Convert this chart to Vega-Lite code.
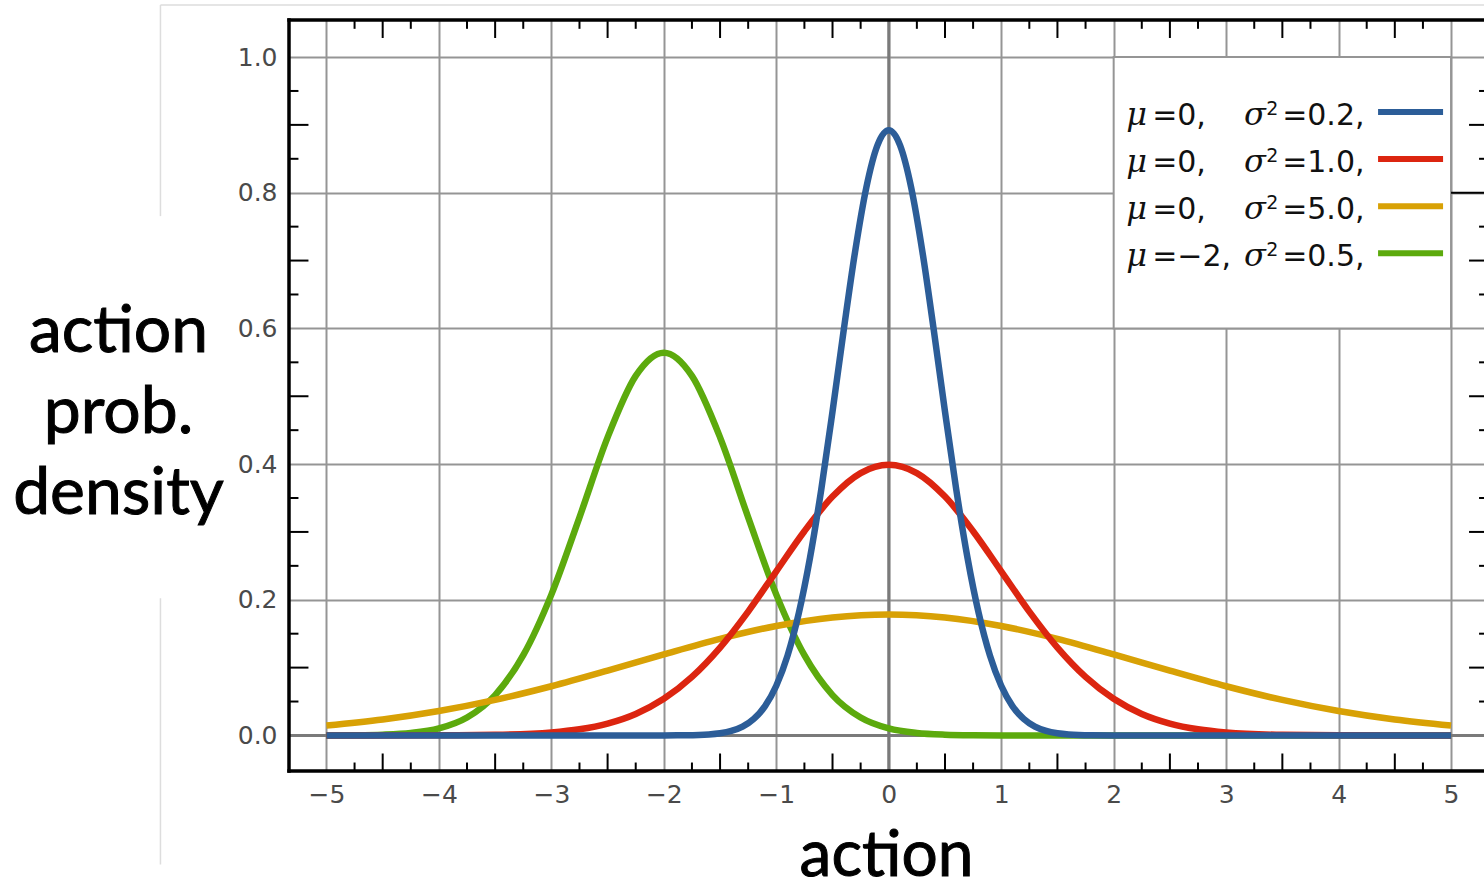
{
  "$schema": "https://vega.github.io/schema/vega-lite/v6.json",
  "width": 1195,
  "height": 751,
  "autosize": "none",
  "padding": {"left": 289, "top": 20, "right": 0, "bottom": 118},
  "background": "white",
  "config": {"view": {"stroke": null}},
  "datasets": {
    "curves": [
      {"s": "N(-2,0.5)", "x": -5, "y": 0.00007},
      {"s": "N(-2,0.5)", "x": -4.75, "y": 0.00029},
      {"s": "N(-2,0.5)", "x": -4.5, "y": 0.00109},
      {"s": "N(-2,0.5)", "x": -4.25, "y": 0.00357},
      {"s": "N(-2,0.5)", "x": -4, "y": 0.0103},
      {"s": "N(-2,0.5)", "x": -3.75, "y": 0.0264},
      {"s": "N(-2,0.5)", "x": -3.5, "y": 0.0595},
      {"s": "N(-2,0.5)", "x": -3.25, "y": 0.1183},
      {"s": "N(-2,0.5)", "x": -3, "y": 0.2076},
      {"s": "N(-2,0.5)", "x": -2.75, "y": 0.3215},
      {"s": "N(-2,0.5)", "x": -2.5, "y": 0.4394},
      {"s": "N(-2,0.5)", "x": -2.25, "y": 0.53},
      {"s": "N(-2,0.5)", "x": -2, "y": 0.5642},
      {"s": "N(-2,0.5)", "x": -1.75, "y": 0.53},
      {"s": "N(-2,0.5)", "x": -1.5, "y": 0.4394},
      {"s": "N(-2,0.5)", "x": -1.25, "y": 0.3215},
      {"s": "N(-2,0.5)", "x": -1, "y": 0.2076},
      {"s": "N(-2,0.5)", "x": -0.75, "y": 0.1183},
      {"s": "N(-2,0.5)", "x": -0.5, "y": 0.0595},
      {"s": "N(-2,0.5)", "x": -0.25, "y": 0.0264},
      {"s": "N(-2,0.5)", "x": 0, "y": 0.0103},
      {"s": "N(-2,0.5)", "x": 0.25, "y": 0.00357},
      {"s": "N(-2,0.5)", "x": 0.5, "y": 0.00109},
      {"s": "N(-2,0.5)", "x": 0.75, "y": 0.00029},
      {"s": "N(-2,0.5)", "x": 1, "y": 0.00007},
      {"s": "N(-2,0.5)", "x": 1.5, "y": 0},
      {"s": "N(-2,0.5)", "x": 2, "y": 0},
      {"s": "N(-2,0.5)", "x": 3, "y": 0},
      {"s": "N(-2,0.5)", "x": 4, "y": 0},
      {"s": "N(-2,0.5)", "x": 5, "y": 0},
      {"s": "N(0,5.0)", "x": -5, "y": 0.0146},
      {"s": "N(0,5.0)", "x": -4.5, "y": 0.0235},
      {"s": "N(0,5.0)", "x": -4, "y": 0.036},
      {"s": "N(0,5.0)", "x": -3.5, "y": 0.0524},
      {"s": "N(0,5.0)", "x": -3, "y": 0.0725},
      {"s": "N(0,5.0)", "x": -2.5, "y": 0.0955},
      {"s": "N(0,5.0)", "x": -2, "y": 0.1196},
      {"s": "N(0,5.0)", "x": -1.5, "y": 0.1425},
      {"s": "N(0,5.0)", "x": -1, "y": 0.1614},
      {"s": "N(0,5.0)", "x": -0.5, "y": 0.174},
      {"s": "N(0,5.0)", "x": 0, "y": 0.1784},
      {"s": "N(0,5.0)", "x": 0.5, "y": 0.174},
      {"s": "N(0,5.0)", "x": 1, "y": 0.1614},
      {"s": "N(0,5.0)", "x": 1.5, "y": 0.1425},
      {"s": "N(0,5.0)", "x": 2, "y": 0.1196},
      {"s": "N(0,5.0)", "x": 2.5, "y": 0.0955},
      {"s": "N(0,5.0)", "x": 3, "y": 0.0725},
      {"s": "N(0,5.0)", "x": 3.5, "y": 0.0524},
      {"s": "N(0,5.0)", "x": 4, "y": 0.036},
      {"s": "N(0,5.0)", "x": 4.5, "y": 0.0235},
      {"s": "N(0,5.0)", "x": 5, "y": 0.0146},
      {"s": "N(0,1.0)", "x": -5, "y": 0.0000015},
      {"s": "N(0,1.0)", "x": -4.5, "y": 0.000016},
      {"s": "N(0,1.0)", "x": -4, "y": 0.000134},
      {"s": "N(0,1.0)", "x": -3.5, "y": 0.00087},
      {"s": "N(0,1.0)", "x": -3, "y": 0.00443},
      {"s": "N(0,1.0)", "x": -2.75, "y": 0.0091},
      {"s": "N(0,1.0)", "x": -2.5, "y": 0.0175},
      {"s": "N(0,1.0)", "x": -2.25, "y": 0.0317},
      {"s": "N(0,1.0)", "x": -2, "y": 0.054},
      {"s": "N(0,1.0)", "x": -1.75, "y": 0.0863},
      {"s": "N(0,1.0)", "x": -1.5, "y": 0.1295},
      {"s": "N(0,1.0)", "x": -1.25, "y": 0.1826},
      {"s": "N(0,1.0)", "x": -1, "y": 0.242},
      {"s": "N(0,1.0)", "x": -0.75, "y": 0.3011},
      {"s": "N(0,1.0)", "x": -0.5, "y": 0.3521},
      {"s": "N(0,1.0)", "x": -0.25, "y": 0.3867},
      {"s": "N(0,1.0)", "x": 0, "y": 0.3989},
      {"s": "N(0,1.0)", "x": 0.25, "y": 0.3867},
      {"s": "N(0,1.0)", "x": 0.5, "y": 0.3521},
      {"s": "N(0,1.0)", "x": 0.75, "y": 0.3011},
      {"s": "N(0,1.0)", "x": 1, "y": 0.242},
      {"s": "N(0,1.0)", "x": 1.25, "y": 0.1826},
      {"s": "N(0,1.0)", "x": 1.5, "y": 0.1295},
      {"s": "N(0,1.0)", "x": 1.75, "y": 0.0863},
      {"s": "N(0,1.0)", "x": 2, "y": 0.054},
      {"s": "N(0,1.0)", "x": 2.25, "y": 0.0317},
      {"s": "N(0,1.0)", "x": 2.5, "y": 0.0175},
      {"s": "N(0,1.0)", "x": 2.75, "y": 0.0091},
      {"s": "N(0,1.0)", "x": 3, "y": 0.00443},
      {"s": "N(0,1.0)", "x": 3.5, "y": 0.00087},
      {"s": "N(0,1.0)", "x": 4, "y": 0.000134},
      {"s": "N(0,1.0)", "x": 4.5, "y": 0.000016},
      {"s": "N(0,1.0)", "x": 5, "y": 0.0000015},
      {"s": "N(0,0.2)", "x": -5, "y": 0},
      {"s": "N(0,0.2)", "x": -4, "y": 0},
      {"s": "N(0,0.2)", "x": -3, "y": 0},
      {"s": "N(0,0.2)", "x": -2.5, "y": 0},
      {"s": "N(0,0.2)", "x": -2, "y": 0.00004},
      {"s": "N(0,0.2)", "x": -1.8, "y": 0.00027},
      {"s": "N(0,0.2)", "x": -1.6, "y": 0.00148},
      {"s": "N(0,0.2)", "x": -1.5, "y": 0.00322},
      {"s": "N(0,0.2)", "x": -1.4, "y": 0.00664},
      {"s": "N(0,0.2)", "x": -1.3, "y": 0.013},
      {"s": "N(0,0.2)", "x": -1.2, "y": 0.0244},
      {"s": "N(0,0.2)", "x": -1.1, "y": 0.0433},
      {"s": "N(0,0.2)", "x": -1, "y": 0.0732},
      {"s": "N(0,0.2)", "x": -0.9, "y": 0.1177},
      {"s": "N(0,0.2)", "x": -0.8, "y": 0.1801},
      {"s": "N(0,0.2)", "x": -0.7, "y": 0.2621},
      {"s": "N(0,0.2)", "x": -0.6, "y": 0.3627},
      {"s": "N(0,0.2)", "x": -0.5, "y": 0.4775},
      {"s": "N(0,0.2)", "x": -0.4, "y": 0.598},
      {"s": "N(0,0.2)", "x": -0.3, "y": 0.7124},
      {"s": "N(0,0.2)", "x": -0.2, "y": 0.8072},
      {"s": "N(0,0.2)", "x": -0.1, "y": 0.8701},
      {"s": "N(0,0.2)", "x": 0, "y": 0.8921},
      {"s": "N(0,0.2)", "x": 0.1, "y": 0.8701},
      {"s": "N(0,0.2)", "x": 0.2, "y": 0.8072},
      {"s": "N(0,0.2)", "x": 0.3, "y": 0.7124},
      {"s": "N(0,0.2)", "x": 0.4, "y": 0.598},
      {"s": "N(0,0.2)", "x": 0.5, "y": 0.4775},
      {"s": "N(0,0.2)", "x": 0.6, "y": 0.3627},
      {"s": "N(0,0.2)", "x": 0.7, "y": 0.2621},
      {"s": "N(0,0.2)", "x": 0.8, "y": 0.1801},
      {"s": "N(0,0.2)", "x": 0.9, "y": 0.1177},
      {"s": "N(0,0.2)", "x": 1, "y": 0.0732},
      {"s": "N(0,0.2)", "x": 1.1, "y": 0.0433},
      {"s": "N(0,0.2)", "x": 1.2, "y": 0.0244},
      {"s": "N(0,0.2)", "x": 1.3, "y": 0.013},
      {"s": "N(0,0.2)", "x": 1.4, "y": 0.00664},
      {"s": "N(0,0.2)", "x": 1.5, "y": 0.00322},
      {"s": "N(0,0.2)", "x": 1.6, "y": 0.00148},
      {"s": "N(0,0.2)", "x": 1.8, "y": 0.00027},
      {"s": "N(0,0.2)", "x": 2, "y": 0.00004},
      {"s": "N(0,0.2)", "x": 2.5, "y": 0},
      {"s": "N(0,0.2)", "x": 3, "y": 0},
      {"s": "N(0,0.2)", "x": 4, "y": 0},
      {"s": "N(0,0.2)", "x": 5, "y": 0}
    ],
    "xshort": [{"v": -4.75}, {"v": -4.25}, {"v": -3.75}, {"v": -3.25}, {"v": -2.75}, {"v": -2.25}, {"v": -1.75}, {"v": -1.25}, {"v": -0.75}, {"v": -0.25}, {"v": 0.25}, {"v": 0.75}, {"v": 1.25}, {"v": 1.75}, {"v": 2.25}, {"v": 2.75}, {"v": 3.25}, {"v": 3.75}, {"v": 4.25}, {"v": 4.75}],
    "xlong": [{"v": -4.5}, {"v": -3.5}, {"v": -2.5}, {"v": -1.5}, {"v": -0.5}, {"v": 0.5}, {"v": 1.5}, {"v": 2.5}, {"v": 3.5}, {"v": 4.5}],
    "yshort": [{"v": 0.05}, {"v": 0.15}, {"v": 0.25}, {"v": 0.35}, {"v": 0.45}, {"v": 0.55}, {"v": 0.65}, {"v": 0.75}, {"v": 0.85}, {"v": 0.95}],
    "ylong": [{"v": 0.1}, {"v": 0.3}, {"v": 0.5}, {"v": 0.7}, {"v": 0.9}]
  },
  "layer": [
    {
      "data": {"values": [{}]},
      "mark": {"type": "rule", "color": "#7a7a7a", "strokeWidth": 3},
      "encoding": {"x": {"datum": 0}, "y": {"datum": -0.0524}, "y2": {"datum": 1.0546}}
    },
    {
      "data": {"values": [{}]},
      "mark": {"type": "rule", "color": "#7a7a7a", "strokeWidth": 3},
      "encoding": {"y": {"datum": 0}, "x": {"datum": -5.333}, "x2": {"datum": 5.4}}
    },
    {
      "data": {"name": "curves"},
      "transform": [{"filter": "datum.s === 'N(-2,0.5)'"}],
      "mark": {"type": "line", "interpolate": "monotone", "strokeWidth": 6.5, "strokeCap": "butt", "strokeJoin": "round"},
      "encoding": {
        "x": {
          "field": "x", "type": "quantitative",
          "scale": {"domain": [-5.333, 5.293], "nice": false, "zero": false},
          "axis": {
            "values": [-5, -4, -3, -2, -1, 0, 1, 2, 3, 4, 5],
            "format": "d",
            "title": null,
            "domain": false,
            "ticks": false,
            "grid": true,
            "gridColor": "#959595",
            "gridWidth": 2,
            "labelFont": "DejaVu Sans",
            "labelFontSize": 25,
            "labelColor": "#4a4a4a",
            "labelPadding": 11,
            "labelBaseline": "top"
          }
        },
        "y": {
          "field": "y", "type": "quantitative",
          "scale": {"domain": [-0.0524, 1.0546], "nice": false, "zero": false},
          "axis": {
            "values": [0, 0.2, 0.4, 0.6, 0.8, 1.0],
            "format": ".1f",
            "title": null,
            "domain": false,
            "ticks": false,
            "grid": true,
            "gridColor": "#959595",
            "gridWidth": 2,
            "labelFont": "DejaVu Sans",
            "labelFontSize": 25,
            "labelColor": "#4a4a4a",
            "labelPadding": 12
          }
        },
        "color": {
          "field": "s", "type": "nominal",
          "scale": {"domain": ["N(0,0.2)", "N(0,1.0)", "N(0,5.0)", "N(-2,0.5)"], "range": ["#2c5d98", "#dc2510", "#d8a105", "#5caa0d"]},
          "legend": null
        }
      }
    },
    {
      "data": {"name": "curves"},
      "transform": [{"filter": "datum.s === 'N(0,5.0)'"}],
      "mark": {"type": "line", "interpolate": "monotone", "strokeWidth": 6.5, "strokeCap": "butt", "strokeJoin": "round"},
      "encoding": {
        "x": {"field": "x", "type": "quantitative"},
        "y": {"field": "y", "type": "quantitative"},
        "color": {"field": "s", "type": "nominal"}
      }
    },
    {
      "data": {"name": "curves"},
      "transform": [{"filter": "datum.s === 'N(0,1.0)'"}],
      "mark": {"type": "line", "interpolate": "monotone", "strokeWidth": 6.5, "strokeCap": "butt", "strokeJoin": "round"},
      "encoding": {
        "x": {"field": "x", "type": "quantitative"},
        "y": {"field": "y", "type": "quantitative"},
        "color": {"field": "s", "type": "nominal"}
      }
    },
    {
      "data": {"name": "curves"},
      "transform": [{"filter": "datum.s === 'N(0,0.2)'"}],
      "mark": {"type": "line", "interpolate": "monotone", "strokeWidth": 6.5, "strokeCap": "butt", "strokeJoin": "round"},
      "encoding": {
        "x": {"field": "x", "type": "quantitative"},
        "y": {"field": "y", "type": "quantitative"},
        "color": {"field": "s", "type": "nominal"}
      }
    },
    {
      "data": {"values": [{}]},
      "mark": {"type": "rect", "fill": "white", "stroke": "#959595", "strokeWidth": 2},
      "encoding": {"x": {"datum": 2}, "x2": {"datum": 5}, "y": {"datum": 0.6}, "y2": {"datum": 1.0}}
    },
    {
      "data": {"name": "xshort"},
      "mark": {"type": "rule", "color": "black", "strokeWidth": 2},
      "encoding": {"x": {"field": "v", "type": "quantitative"}, "y": {"datum": -0.0524}, "y2": {"datum": -0.0399}}
    },
    {
      "data": {"name": "xlong"},
      "mark": {"type": "rule", "color": "black", "strokeWidth": 2},
      "encoding": {"x": {"field": "v", "type": "quantitative"}, "y": {"datum": -0.0524}, "y2": {"datum": -0.0266}}
    },
    {
      "data": {"name": "xshort"},
      "mark": {"type": "rule", "color": "black", "strokeWidth": 2},
      "encoding": {"x": {"field": "v", "type": "quantitative"}, "y": {"datum": 1.0546}, "y2": {"datum": 1.0416}}
    },
    {
      "data": {"name": "xlong"},
      "mark": {"type": "rule", "color": "black", "strokeWidth": 2},
      "encoding": {"x": {"field": "v", "type": "quantitative"}, "y": {"datum": 1.0546}, "y2": {"datum": 1.0281}}
    },
    {
      "data": {"name": "yshort"},
      "mark": {"type": "rule", "color": "black", "strokeWidth": 2},
      "encoding": {"y": {"field": "v", "type": "quantitative"}, "x": {"datum": -5.333}, "x2": {"datum": -5.249}}
    },
    {
      "data": {"name": "ylong"},
      "mark": {"type": "rule", "color": "black", "strokeWidth": 2},
      "encoding": {"y": {"field": "v", "type": "quantitative"}, "x": {"datum": -5.333}, "x2": {"datum": -5.16}}
    },
    {
      "data": {"name": "yshort"},
      "mark": {"type": "rule", "color": "black", "strokeWidth": 2},
      "encoding": {"y": {"field": "v", "type": "quantitative"}, "x": {"datum": 5.34}, "x2": {"datum": 5.249}}
    },
    {
      "data": {"name": "ylong"},
      "mark": {"type": "rule", "color": "black", "strokeWidth": 2},
      "encoding": {"y": {"field": "v", "type": "quantitative"}, "x": {"datum": 5.34}, "x2": {"datum": 5.16}}
    },
    {
      "data": {"values": [{}]},
      "mark": {"type": "rule", "color": "black", "strokeWidth": 2},
      "encoding": {"y": {"datum": 0.8}, "x": {"datum": 5}, "x2": {"datum": 5.34}}
    },
    {
      "data": {"values": [{}]},
      "mark": {"type": "rule", "color": "black", "strokeWidth": 3.5},
      "encoding": {"x": {"datum": -5.333}, "y": {"datum": -0.0549}, "y2": {"datum": 1.0571}}
    },
    {
      "data": {"values": [{}]},
      "mark": {"type": "rule", "color": "black", "strokeWidth": 3.5},
      "encoding": {"y": {"datum": 1.0546}, "x": {"datum": -5.348}, "x2": {"datum": 5.4}}
    },
    {
      "data": {"values": [{}]},
      "mark": {"type": "rule", "color": "black", "strokeWidth": 3.5},
      "encoding": {"y": {"datum": -0.0524}, "x": {"datum": -5.348}, "x2": {"datum": 5.4}}
    },
    {
      "data": {"values": [{}]},
      "mark": {"type": "rect", "fill": "white"},
      "encoding": {"x": {"datum": -5.32}, "x2": {"datum": 5.4}, "y": {"datum": -0.1018}, "y2": {"datum": -0.26}}
    },
    {
      "data": {"values": [{}]},
      "mark": {"type": "rule", "color": "#dddddd", "strokeWidth": 1.5},
      "encoding": {"y": {"datum": 1.0767}, "x": {"datum": -6.476}, "x2": {"datum": 5.4}}
    },
    {
      "data": {"values": [{}]},
      "mark": {"type": "rule", "color": "#dddddd", "strokeWidth": 1.5},
      "encoding": {"x": {"datum": -6.476}, "y": {"datum": 1.0767}, "y2": {"datum": 0.7655}}
    },
    {
      "data": {"values": [{}]},
      "mark": {"type": "rule", "color": "#dddddd", "strokeWidth": 1.5},
      "encoding": {"x": {"datum": -6.476}, "y": {"datum": 0.2021}, "y2": {"datum": -0.1903}}
    },
    {
      "data": {"values": [{}]},
      "mark": {"type": "text", "text": ["μ", "μ", "μ", "μ"], "font": "DejaVu Serif", "fontStyle": "italic", "fontSize": 32, "lineHeight": 47, "align": "left", "baseline": "alphabetic", "color": "#111111"},
      "encoding": {"x": {"datum": 2.111}, "y": {"datum": 0.8997}}
    },
    {
      "data": {"values": [{}]},
      "mark": {"type": "text", "text": ["=0,", "=0,", "=0,", "=−2,"], "font": "DejaVu Sans", "fontSize": 30, "lineHeight": 47, "align": "left", "baseline": "alphabetic", "color": "#111111"},
      "encoding": {"x": {"datum": 2.342}, "y": {"datum": 0.8997}}
    },
    {
      "data": {"values": [{}]},
      "mark": {"type": "text", "text": ["σ", "σ", "σ", "σ"], "font": "DejaVu Serif", "fontStyle": "italic", "fontSize": 32, "lineHeight": 47, "align": "left", "baseline": "alphabetic", "color": "#111111"},
      "encoding": {"x": {"datum": 3.16}, "y": {"datum": 0.8997}}
    },
    {
      "data": {"values": [{}]},
      "mark": {"type": "text", "text": ["2", "2", "2", "2"], "font": "DejaVu Sans", "fontSize": 19, "lineHeight": 47, "align": "left", "baseline": "alphabetic", "color": "#111111"},
      "encoding": {"x": {"datum": 3.356}, "y": {"datum": 0.9145}}
    },
    {
      "data": {"values": [{}]},
      "mark": {"type": "text", "text": ["=0.2,", "=1.0,", "=5.0,", "=0.5,"], "font": "DejaVu Sans", "fontSize": 30, "lineHeight": 47, "align": "left", "baseline": "alphabetic", "color": "#111111"},
      "encoding": {"x": {"datum": 3.498}, "y": {"datum": 0.8997}}
    },
    {
      "data": {"values": [{}]},
      "mark": {"type": "rule", "strokeWidth": 6},
      "encoding": {"x": {"datum": 4.351}, "x2": {"datum": 4.929}, "y": {"datum": 0.9189}, "color": {"datum": "N(0,0.2)"}}
    },
    {
      "data": {"values": [{}]},
      "mark": {"type": "rule", "strokeWidth": 6},
      "encoding": {"x": {"datum": 4.351}, "x2": {"datum": 4.929}, "y": {"datum": 0.8496}, "color": {"datum": "N(0,1.0)"}}
    },
    {
      "data": {"values": [{}]},
      "mark": {"type": "rule", "strokeWidth": 6},
      "encoding": {"x": {"datum": 4.351}, "x2": {"datum": 4.929}, "y": {"datum": 0.7802}, "color": {"datum": "N(0,5.0)"}}
    },
    {
      "data": {"values": [{}]},
      "mark": {"type": "rule", "strokeWidth": 6},
      "encoding": {"x": {"datum": 4.351}, "x2": {"datum": 4.929}, "y": {"datum": 0.7109}, "color": {"datum": "N(-2,0.5)"}}
    },
    {
      "data": {"values": [{}]},
      "mark": {"type": "text", "text": ["action", "prob.", "density"], "font": "Lato", "fontSize": 66, "lineHeight": 81, "align": "center", "baseline": "alphabetic", "color": "#000000", "stroke": "#000000", "strokeWidth": 1},
      "encoding": {"x": {"datum": -6.849}, "y": {"datum": 0.5649}}
    },
    {
      "data": {"values": [{}]},
      "mark": {"type": "text", "text": "action", "font": "Lato", "fontSize": 64, "align": "center", "baseline": "alphabetic", "color": "#000000", "stroke": "#000000", "strokeWidth": 1},
      "encoding": {"x": {"datum": -0.02}, "y": {"datum": -0.2065}}
    }
  ]
}
